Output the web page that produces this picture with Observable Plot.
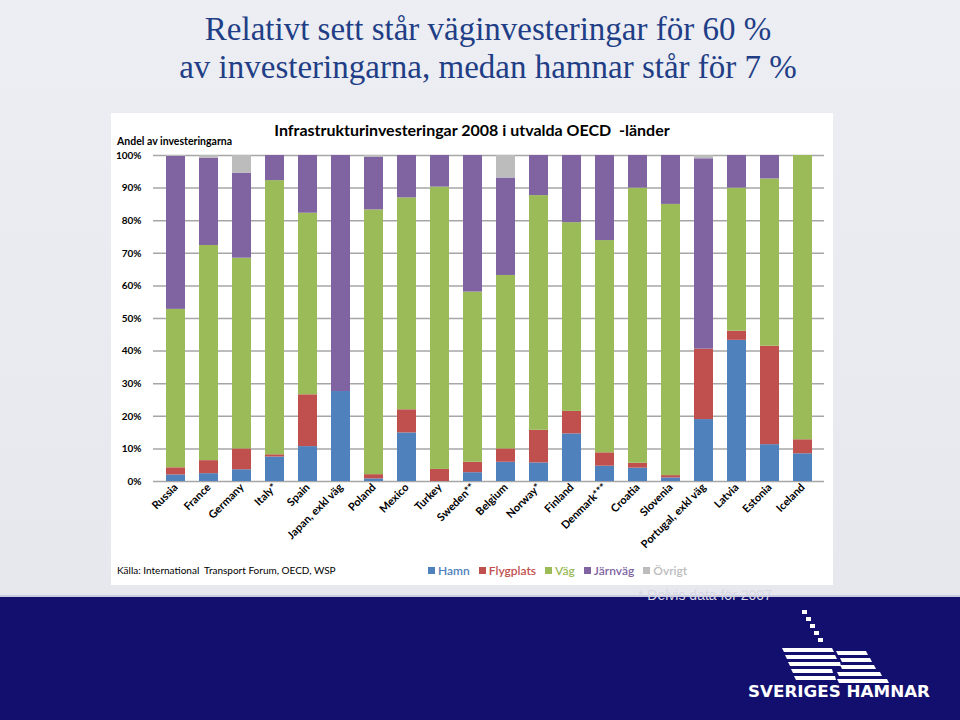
<!DOCTYPE html>
<html><head><meta charset="utf-8">
<script src="https://cdn.jsdelivr.net/npm/d3@7"></script>
<script src="https://cdn.jsdelivr.net/npm/@observablehq/plot@0.6"></script>
<style>
body{margin:0;width:960px;height:720px;overflow:hidden;position:relative;font-family:Lato,sans-serif;
 background:linear-gradient(180deg,#eceef3 0%,#e6e8ee 80%);}
.abs{position:absolute;white-space:nowrap}
#navy{left:0;top:595px;width:960px;height:125px;background:#120f6e;border-top:2px solid #c9cce0}
#title{left:0;width:976px;text-align:center;font-family:"Liberation Serif",serif;font-size:33px;color:#1f3e86;line-height:38px;top:10px}
#box{left:111px;top:113px;width:722px;height:472px;background:#fff}
#ctitle{left:111px;width:722px;top:120px;text-align:center;font-weight:bold;font-size:16px;color:#000}
#ylab{left:117px;top:135px;font-weight:bold;font-size:10.5px;color:#000}
#plot{left:111px;top:113px}
#source{left:117px;top:564px;font-size:10px;color:#000}
#legend{left:428px;top:563px;font-size:12px;font-weight:600}
#legend span{margin-right:9px}
#legend i{display:inline-block;width:7px;height:7px;margin-right:3px;vertical-align:1px}
#foot{left:638px;top:587px;font-family:"Liberation Sans",sans-serif;font-size:14px;color:#d8d8e4}
</style></head>
<body>
<div id="navy" class="abs"></div>
<div id="title" class="abs">Relativt sett står väginvesteringar för 60 %<br>av investeringarna, medan hamnar står för 7 %</div>
<div id="box" class="abs"></div>
<div id="ctitle" class="abs">Infrastrukturinvesteringar 2008 i utvalda OECD&nbsp; -länder</div>
<div id="ylab" class="abs">Andel av investeringarna</div>
<div id="plot" class="abs"></div>
<div id="source" class="abs">Källa: International&nbsp; Transport Forum, OECD, WSP</div>
<div id="legend" class="abs"></div>
<div id="foot" class="abs">* Delvis data för 2007</div>
<svg class="abs" style="left:740px;top:605px" width="200" height="100">
  <g fill="#fff">
    <rect x="62" y="5" width="5" height="4"/>
    <rect x="66" y="12" width="5" height="4"/>
    <rect x="70" y="19" width="5" height="4"/>
    <rect x="74" y="26" width="5" height="4"/>
    <rect x="78" y="33" width="5" height="4"/>
    <polygon points="42,43 92,43 94,47 44,47"/>
    <polygon points="45,50 95,50 97,54 47,54"/>
    <polygon points="48,57 100,57 101,61 50,61"/>
    <polygon points="51,64 92,64 93,68 53,68"/>
    <polygon points="54,71 95,71 96,75 56,75"/>
    <polygon points="96,46 126,46 128,50 98,50"/>
    <polygon points="100,53 130,53 132,57 102,57"/>
    <polygon points="100,60 134,60 136,64 102,64"/>
    <polygon points="97,67 140,67 142,71 99,71"/>
    <polygon points="97,74 147,74 149,78 99,78"/>
    <text x="8" y="92" font-family="DejaVu Sans" font-weight="bold" font-size="15" textLength="182" lengthAdjust="spacingAndGlyphs">SVERIGES HAMNAR</text>
  </g>
</svg>
<script>
const countries = ["Russia","France","Germany","Italy*","Spain","Japan, exkl väg","Poland","Mexico","Turkey","Sweden**","Belgium","Norway*","Finland","Denmark***","Croatia","Slovenia","Portugal, exkl väg","Latvia","Estonia","Iceland"];
const series = ["Hamn","Flygplats","Väg","Järnväg","Övrigt"];
const colors = ["#4f81bd","#c0504d","#9bbb59","#8064a2","#bcbcbc"];
const hamn      = [2.0, 2.4, 3.6, 7.5, 10.7, 27.6, 0.8, 14.9, 0.0, 2.7, 5.9, 5.7, 14.6, 4.7, 4.1, 1.1, 19.0, 43.3, 11.3, 8.5];
const flygplats = [2.2, 4.0, 6.4, 0.7, 15.9, 0.0, 1.3, 7.1, 3.7, 3.2, 4.1, 10.0, 6.9, 4.1, 1.5, 0.7, 21.6, 2.8, 30.2, 4.3];
const vag       = [48.6, 66.0, 58.5, 84.1, 55.7, 0.0, 81.2, 65.0, 86.6, 52.2, 53.2, 72.0, 57.9, 65.1, 84.4, 83.2, 0.0, 43.9, 51.3, 87.2];
const jarnvag   = [46.9, 26.8, 26.1, 7.7, 17.7, 72.4, 16.2, 13.0, 9.7, 41.9, 29.9, 12.3, 20.6, 26.1, 10.0, 15.0, 58.4, 10.0, 7.2, 0.0];
const ovrigt    = [0.3, 0.8, 5.4, 0.0, 0.0, 0.0, 0.5, 0.0, 0.0, 0.0, 6.9, 0.0, 0.0, 0.0, 0.0, 0.0, 1.0, 0.0, 0.0, 0.0];
const yTicks = [0,10,20,30,40,50,60,70,80,90,100];

const values = [hamn, flygplats, vag, jarnvag, ovrigt];
const data = [];
countries.forEach((c,i) => series.forEach((s,j) => data.push({country:c, type:s, value: values[j][i]/100})));

const chart = Plot.plot({
  width: 722, height: 445,
  marginTop: 42, marginBottom: 77, marginLeft: 42, marginRight: 9,
  style: {background:"transparent", fontFamily:"Lato, sans-serif", fontSize:"10px", fontWeight:"bold", color:"#000", overflow:"visible"},
  x: {domain: countries, paddingInner: 0.43, paddingOuter: 0.19, tickRotate: -45, tickSize: 0, tickPadding: 4, label: null},
  y: {domain: [0,1], ticks: yTicks.map(d=>d/100), tickFormat: d => Math.round(d*100) + "%", tickSize: 0, tickPadding: 12, label: null},
  color: {domain: series, range: colors},
  marks: [
    Plot.ruleY(yTicks.map(d=>d/100), {stroke:"#a6a6a6", strokeWidth:1.5}),
    Plot.barY(data, {x:"country", y:"value", fill:"type"}),
    Plot.axisX({tickRotate:-45, tickSize:0, tickPadding:4, fontSize:11, label:null}),
    Plot.axisY({ticks: yTicks.map(d=>d/100), tickFormat: d => Math.round(d*100) + "%", tickSize:0, tickPadding:12, label:null})
  ]
});
document.getElementById("plot").appendChild(chart);

const leg = document.getElementById("legend");
series.forEach((s,j) => {
  const sp = document.createElement("span");
  sp.style.color = colors[j];
  sp.innerHTML = `<i style="background:${colors[j]}"></i>${s}`;
  leg.appendChild(sp);
});
</script>
</body></html>
